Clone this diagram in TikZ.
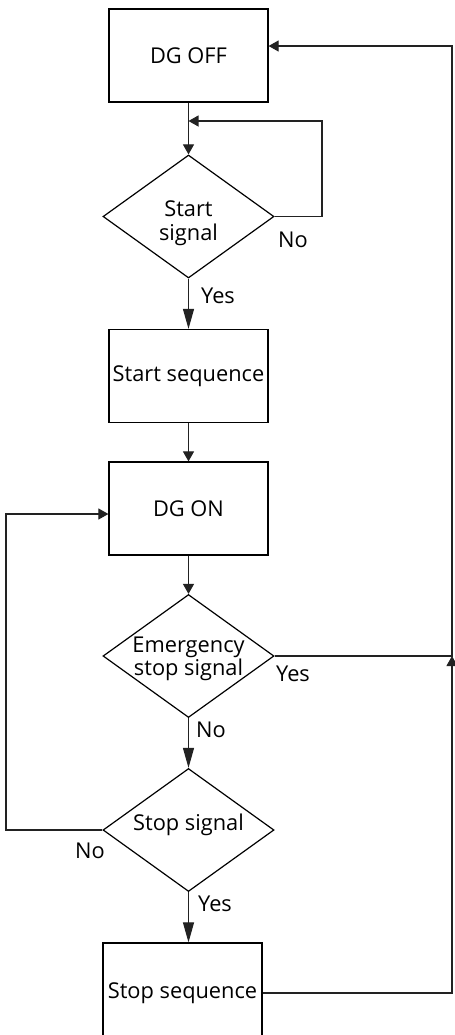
\documentclass[tikz,border=0pt]{standalone}
\usepackage{fontspec}
\setmainfont{Open Sans}
\usetikzlibrary{shapes.geometric,arrows.meta}
\definecolor{LineColor}{HTML}{222222}
\tikzset{
  txt/.style={font=\fontsize{10.9}{11.8}\selectfont, align=center, inner sep=0pt},
  box/.style={draw=black, line width=0.6pt, minimum width=79.5pt, minimum height=46.5pt, inner sep=0pt, txt},
  decision/.style={draw=black, diamond, line width=0.6pt, minimum width=85.5pt, minimum height=61.5pt, inner sep=0pt},
  arr/.style={draw=LineColor, line width=0.55pt, -{Triangle[length=5pt,width=5.5pt]}},
  bigarr/.style={draw=LineColor, line width=0.55pt, -{Triangle[length=10pt,width=5.5pt]}},
  plain/.style={draw=LineColor, line width=0.55pt}
}
\begin{document}
\begin{tikzpicture}[x=0.5pt,y=-0.5pt]
  \clip (0,0) rectangle (455,1035);
  \fill[white] (0,0) rectangle (455,1035);
  \node[box] (dgoff) at (188.5,55.5) {DG OFF};
  \node[decision, label={[txt, yshift=-3.5pt]center:Start\\signal}] (startsig) at (188.5,216.5) {};
  \node[box] (startseq) at (188.5,376) {Start sequence};
  \node[box] (dgon) at (188.5,508.5) {DG ON};
  \node[decision, label={[txt, yshift=-1.5pt]center:Emergency\\stop signal}] (emsig) at (188.5,656) {};
  \node[decision, label={[txt, yshift=2.5pt]center:Stop signal}] (stopsig) at (188.5,830) {};
  \node[box, minimum height=50pt] (stopseq) at (182.5,993) {Stop sequence};

  \node[txt] (no1) at (293,240) {No};
  \node[txt] (yes1) at (218,296) {Yes};
  \node[txt] (yes2) at (293,674) {Yes};
  \node[txt] (no2) at (211,730) {No};
  \node[txt] (no3) at (90,851) {No};
  \node[txt] (yes3) at (215,904) {Yes};

  \coordinate (j1) at (188.5,121);
  \coordinate (nobend) at (322,121);
  \coordinate (ltop) at (6,514);
  \coordinate (rj) at (452,656);
  \coordinate (rtop) at (452,46);

  \draw[arr] (dgoff.south) -- (startsig.north);
  \draw[arr] (startsig.east) -| (nobend) -- (j1);
  \draw[bigarr] (startsig.south) -- (startseq.north);
  \draw[arr] (startseq.south) -- (dgon.north);
  \draw[arr] (dgon.south) -- (emsig.north);
  \draw[bigarr] (emsig.south) -- (stopsig.north);
  \draw[bigarr] (stopsig.south) -- (stopsig.south |- stopseq.north);
  \draw[arr] (stopsig.west) -| (ltop) -- (dgon.west |- ltop);
  \draw[arr] (stopseq.east) -| (rj);
  \draw[arr] (emsig.east) -- (rj) -- (rtop) -- (dgoff.east |- rtop);
\end{tikzpicture}
\end{document}
